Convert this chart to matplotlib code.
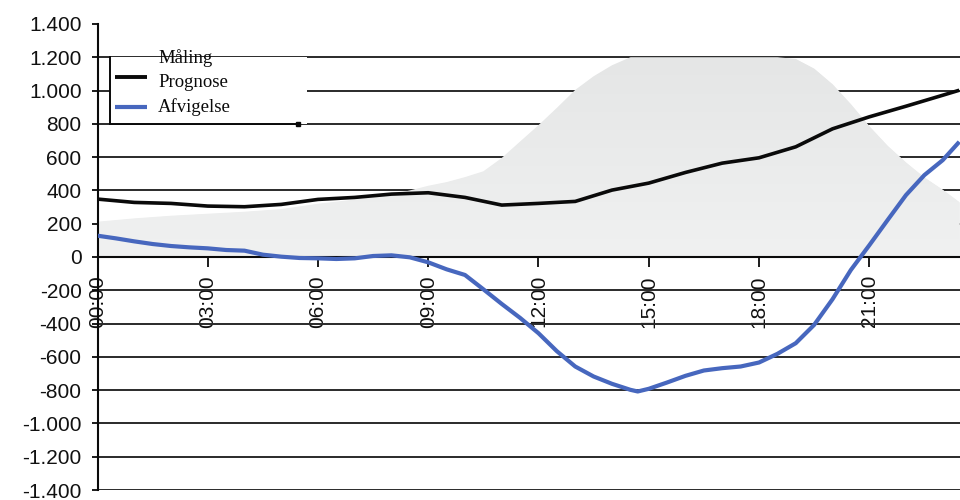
import numpy as np
import matplotlib
matplotlib.use("Agg")
import matplotlib.pyplot as plt
from matplotlib.lines import Line2D
from matplotlib.patches import Rectangle
from matplotlib.ticker import FuncFormatter

# ---------------- data ----------------
hours_maling = [0, 1, 2, 3, 4, 5, 6, 7, 8, 8.5, 9, 9.5, 10, 10.5, 11, 11.5, 12, 12.5, 13,
                13.5, 14, 14.5, 15, 16, 17, 18, 18.5, 19, 19.5, 20, 20.5, 21, 21.5, 22,
                22.5, 23, 23.45]
maling = [212, 232, 248, 260, 272, 288, 320, 345, 375, 400, 428, 450, 480, 515, 595, 694,
          792, 896, 1004, 1086, 1152, 1200, 1200, 1200, 1200, 1200, 1200, 1190, 1132, 1038,
          918, 786, 668, 568, 478, 404, 330]

hours_prognose = [0, 1, 2, 3, 4, 5, 6, 7, 8, 9, 10, 11, 12, 13, 14, 15, 16, 17, 18, 19,
                  20, 21, 22, 23, 23.45]
prognose = [348, 328, 322, 306, 302, 316, 346, 358, 378, 386, 358, 312, 322, 334, 402, 444,
            508, 564, 596, 662, 770, 842, 906, 972, 1002]

hours_afvig = [0, 0.5, 1, 1.5, 2, 2.5, 3, 3.5, 4, 4.5, 5, 5.5, 6, 6.5, 7, 7.5, 8, 8.5, 9,
               9.5, 10, 10.5, 11, 11.5, 12, 12.5, 13, 13.5, 14, 14.5, 14.7, 15, 15.5, 16,
               16.5, 17, 17.5, 18, 18.5, 19, 19.5, 20, 20.5, 21, 21.5, 22, 22.5, 23, 23.45]
afvigelse = [128, 112, 94, 78, 66, 58, 52, 42, 38, 14, 2, -6, -8, -12, -8, 6, 10, -2, -32,
             -74, -108, -194, -282, -366, -458, -566, -658, -718, -762, -798, -808, -792,
             -754, -714, -682, -668, -658, -634, -582, -518, -408, -254, -78, 70, 222, 372,
             492, 582, 692]

xtick_hours = [0, 3, 6, 9, 12, 15, 18, 21]
xtick_labels = ["00:00", "03:00", "06:00", "09:00", "12:00", "15:00", "18:00", "21:00"]
ytick_values = list(range(-1400, 1401, 200))
legend_labels = ["Måling", "Prognose", "Afvigelse"]

# ---------------- style ----------------
BLACK = "#0a0a0a"
BLUE = "#4767be"
GRID = "#2a2a2a"
SANS = ["Liberation Sans", "DejaVu Sans"]
SERIF = ["Liberation Serif", "DejaVu Serif"]

fig = plt.figure(figsize=(9.6, 5.0), dpi=100)
ax = fig.add_axes([97.5 / 960, 10 / 500, 862.5 / 960, 466 / 500])
XMAX = 23.47

# gridlines
ax.set_yticks(ytick_values)
ax.set_axisbelow(True)
ax.yaxis.grid(True, color=GRID, linewidth=1.4)
for v, gl in zip(ytick_values, ax.yaxis.get_gridlines()):
    if v in (0, 1400):
        gl.set_visible(False)

# gray area with slight vertical gradient
poly = ax.fill_between(hours_maling, 0, maling, color="#eceded", linewidth=0, zorder=1)
grad = np.linspace(0, 1, 256).reshape(-1, 1)
cmap = matplotlib.colors.LinearSegmentedColormap.from_list("g", ["#f0f1f1", "#e5e6e6"])
im = ax.imshow(grad, extent=[0, XMAX, 0, 1200], origin="lower", aspect="auto",
               cmap=cmap, zorder=1.1, interpolation="bilinear")
im.set_clip_path(poly.get_paths()[0], transform=ax.transData)
ax.set_xlim(0, XMAX)
ax.set_ylim(-1400, 1400)

# lines
ax.plot(hours_prognose, prognose, color=BLACK, linewidth=2.6, zorder=3,
        solid_capstyle="butt", solid_joinstyle="round")
ax.plot(hours_afvig, afvigelse, color=BLUE, linewidth=3.0, zorder=3,
        solid_capstyle="butt", solid_joinstyle="round")

# spines
for s in ("top", "right"):
    ax.spines[s].set_visible(False)
ax.spines["left"].set_linewidth(1.5)
ax.spines["left"].set_color(BLACK)
ax.spines["bottom"].set_position(("data", 0))
ax.spines["bottom"].set_linewidth(1.5)
ax.spines["bottom"].set_color(BLACK)
ax.spines["bottom"].set_zorder(2.5)

# ticks
ax.set_xticks(xtick_hours)
ax.set_xticklabels(xtick_labels, rotation=90, fontsize=15, family=SANS, color="#111111")
ax.tick_params(axis="x", direction="out", length=7, width=1.3, pad=6, colors=BLACK,
               labelcolor="#111111")
ax.yaxis.set_major_formatter(FuncFormatter(lambda v, p: f"{int(v):,}".replace(",", ".")))
ax.tick_params(axis="y", direction="out", length=4.5, width=1.3, pad=7, colors=BLACK,
               labelcolor="#111111")
for lab in ax.get_yticklabels():
    lab.set_fontsize(15)
    lab.set_family(SANS)

# legend box (manual, white with left/bottom border)
def px(x, y):
    return ((x - 97.5) / 862.5, (490 - y) / 466)

x0, y0 = px(110, 124)
x1, y1 = px(307, 57)
ax.add_patch(Rectangle((x0, y0), x1 - x0, y1 - y0, transform=ax.transAxes,
                       facecolor="white", edgecolor="none", zorder=4))
ax.add_line(Line2D([x0, x0], [y0, y1], transform=ax.transAxes, color=BLACK, lw=1.4, zorder=5))
xb, _ = px(298, 124)
ax.add_line(Line2D([x0, xb], [y0, y0], transform=ax.transAxes, color=BLACK, lw=1.4, zorder=5))
ax.add_line(Line2D([xb], [y0], transform=ax.transAxes, color=BLACK, marker="s",
                   markersize=3, lw=0, zorder=5))

hx0, _ = px(115, 0)
hx1, _ = px(147, 0)
tx, _ = px(158, 0)
text_base = [63, 87, 112]
handle_y = [None, 77, 107]
handle_col = [None, BLACK, BLUE]
handle_lw = [None, 2.8, 3.0]
for lab, tb, hy, hc, hl in zip(legend_labels, text_base, handle_y, handle_col, handle_lw):
    _, ty = px(0, tb)
    ax.text(tx, ty, lab, transform=ax.transAxes, fontsize=13.5, family=SERIF,
            color=BLACK, va="baseline", ha="left", zorder=6)
    if hy is not None:
        _, yy = px(0, hy)
        ax.add_line(Line2D([hx0, hx1], [yy, yy], transform=ax.transAxes, color=hc,
                           lw=hl, zorder=6, solid_capstyle="butt"))

fig.savefig("out.png", dpi=100)
